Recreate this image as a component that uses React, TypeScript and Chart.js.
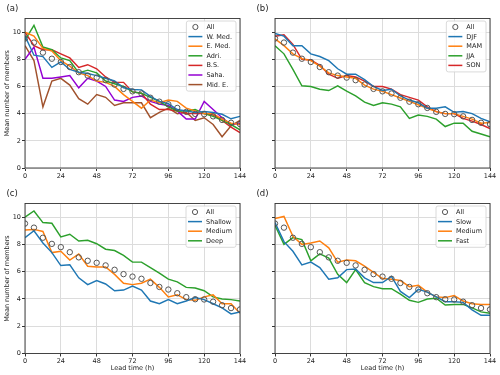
import React, { useEffect, useRef } from 'react';
import { Chart, registerables } from 'chart.js';

Chart.register(...registerables);
Chart.defaults.font.family = "'DejaVu Sans', 'Liberation Sans', sans-serif";

const leadTimes = [0, 6, 12, 18, 24, 30, 36, 42, 48, 54, 60, 66, 72, 78, 84, 90, 96, 102, 108, 114, 120, 126, 132, 138, 144];
const xTicks = [0, 24, 48, 72, 96, 120, 144];
const yTicks = [0, 2, 4, 6, 8, 10];

const allMean = [9.53, 9.23, 8.49, 8.04, 7.8, 7.43, 7.05, 6.8, 6.65, 6.46, 6.14, 5.82, 5.64, 5.48, 5.17, 4.88, 4.69, 4.42, 4.13, 3.98, 3.96, 3.8, 3.54, 3.33, 3.23];

// (a) regions
const wMed = [9.7, 8.3, 8.2, 7.4, 7.8, 7.25, 7.05, 6.95, 6.8, 6.6, 6.4, 5.9, 5.77, 5.75, 5.27, 4.9, 4.73, 4.3, 4.2, 4.08, 4.15, 4.08, 3.95, 3.62, 3.8];
const eMed = [10.0, 9.7, 8.8, 8.6, 7.9, 7.5, 7.0, 6.8, 6.4, 6.3, 6.0, 5.4, 4.9, 4.4, 5.0, 4.8, 5.0, 4.9, 4.4, 4.2, 4.0, 4.0, 3.6, 3.3, 3.2];
const adri = [9.4, 10.5, 8.9, 8.7, 8.1, 7.9, 7.0, 7.2, 7.0, 6.4, 6.2, 6.0, 5.6, 5.5, 5.2, 4.9, 4.5, 4.2, 4.2, 4.3, 4.0, 3.8, 3.5, 3.2, 2.8];
const bs = [10.0, 9.0, 8.7, 8.7, 8.4, 8.1, 7.4, 7.6, 7.3, 6.7, 6.3, 6.3, 5.6, 5.5, 4.7, 4.3, 4.3, 4.2, 4.0, 4.0, 4.0, 3.9, 3.5, 3.0, 2.6];
const saha = [8.0, 8.9, 6.6, 6.6, 6.7, 6.8, 5.9, 6.6, 6.4, 6.0, 5.0, 4.9, 5.2, 5.3, 4.9, 4.7, 4.6, 4.2, 3.6, 3.6, 4.9, 4.3, 3.7, 3.2, 3.3];
const midE = [9.0, 7.9, 4.5, 6.4, 6.6, 6.1, 5.1, 4.7, 5.4, 5.2, 4.6, 4.8, 4.8, 4.8, 3.7, 4.1, 4.4, 4.0, 4.1, 3.5, 3.7, 3.2, 2.3, 3.1, 3.5];

// (b) seasons
const djf = [9.9, 9.7, 9.0, 9.0, 8.4, 8.2, 7.9, 7.3, 6.9, 6.9, 6.5, 6.0, 5.7, 5.8, 5.3, 5.0, 4.8, 4.4, 4.4, 4.5, 4.1, 4.15, 4.0, 3.65, 3.4];
const mam = [9.5, 9.0, 8.4, 8.05, 7.9, 7.5, 7.0, 6.8, 6.7, 6.6, 6.1, 5.8, 5.65, 5.4, 5.15, 4.9, 4.65, 4.4, 4.15, 4.0, 4.0, 3.8, 3.6, 3.3, 3.35];
const jja = [9.0, 8.4, 7.25, 6.05, 6.0, 5.8, 5.7, 6.05, 5.65, 5.3, 4.85, 4.6, 4.8, 4.7, 4.5, 3.65, 3.9, 3.8, 3.6, 3.05, 3.3, 3.3, 2.7, 2.5, 2.3];
const son = [9.7, 9.8, 9.1, 8.0, 7.95, 7.55, 6.9, 6.6, 6.8, 6.7, 6.4, 6.0, 6.0, 5.8, 5.4, 5.2, 5.0, 4.5, 4.15, 4.0, 4.0, 3.65, 3.45, 3.2, 2.9];

// (c) depth
const shallow = [8.5, 9.0, 8.1, 7.4, 6.45, 6.5, 5.55, 5.05, 5.35, 5.1, 4.6, 4.65, 4.95, 4.65, 3.85, 3.65, 3.95, 3.65, 3.85, 4.1, 3.95, 3.65, 3.35, 2.9, 3.05];
const mediumDepth = [9.05, 9.1, 8.95, 7.4, 7.5, 6.85, 7.3, 6.4, 6.35, 6.35, 5.8, 5.15, 5.05, 5.15, 5.45, 4.85, 4.15, 4.3, 3.95, 3.9, 4.15, 4.3, 3.65, 3.65, 2.95];
const deep = [10.0, 10.45, 9.6, 9.55, 8.55, 8.75, 8.25, 8.3, 8.05, 7.65, 7.55, 7.2, 6.7, 6.7, 6.3, 5.9, 5.45, 5.25, 4.85, 4.8, 4.6, 4.15, 4.0, 3.95, 3.85];

// (d) speed
const slow = [9.6, 8.2, 7.5, 6.5, 6.7, 6.3, 5.45, 5.55, 6.15, 6.2, 5.55, 5.2, 5.2, 5.65, 4.55, 4.1, 4.7, 4.5, 4.15, 3.8, 3.8, 3.75, 3.2, 2.8, 2.8];
const mediumSpeed = [9.9, 10.05, 8.6, 8.0, 8.1, 8.25, 7.75, 6.7, 6.85, 6.8, 6.4, 5.95, 5.5, 5.45, 5.35, 4.9, 5.0, 4.5, 4.15, 4.1, 4.25, 3.85, 3.65, 3.6, 3.6];
const fast = [9.4, 8.0, 8.5, 8.35, 6.8, 7.3, 7.0, 5.8, 5.2, 6.15, 5.2, 4.9, 4.75, 4.75, 4.35, 3.9, 3.75, 4.0, 4.05, 3.55, 3.6, 3.6, 3.35, 3.05, 2.95];

const BLUE = '#1f77b4';
const ORANGE = '#ff7f0e';
const GREEN = '#2ca02c';
const RED = '#d62728';
const VIOLET = '#9400d3';
const BROWN = '#a0522d';

type Series = { label: string; color: string; values: number[] };

const panelA: Series[] = [
  { label: 'W. Med.', color: BLUE, values: wMed },
  { label: 'E. Med.', color: ORANGE, values: eMed },
  { label: 'Adri.', color: GREEN, values: adri },
  { label: 'B.S.', color: RED, values: bs },
  { label: 'Saha.', color: VIOLET, values: saha },
  { label: 'Mid. E.', color: BROWN, values: midE },
];
const panelB: Series[] = [
  { label: 'DJF', color: BLUE, values: djf },
  { label: 'MAM', color: ORANGE, values: mam },
  { label: 'JJA', color: GREEN, values: jja },
  { label: 'SON', color: RED, values: son },
];
const panelC: Series[] = [
  { label: 'Shallow', color: BLUE, values: shallow },
  { label: 'Medium', color: ORANGE, values: mediumDepth },
  { label: 'Deep', color: GREEN, values: deep },
];
const panelD: Series[] = [
  { label: 'Slow', color: BLUE, values: slow },
  { label: 'Medium', color: ORANGE, values: mediumSpeed },
  { label: 'Fast', color: GREEN, values: fast },
];

const FONT = "'DejaVu Sans', 'Liberation Sans', sans-serif";
const FS = 6.5;

const framePlugin = {
  id: 'frame',
  afterDatasetsDraw(chart: any) {
    const { ctx, chartArea } = chart;
    const { left, top, right, bottom } = chartArea;
    ctx.save();
    ctx.strokeStyle = '#333';
    ctx.lineWidth = 0.9;
    ctx.strokeRect(left, top, right - left, bottom - top);
    ctx.restore();
  },
};

const legendPlugin = {
  id: 'boxLegend',
  afterDraw(chart: any) {
    const { ctx, chartArea } = chart;
    const items = chart.data.datasets;
    ctx.save();
    ctx.font = `${FS}px ${FONT}`;
    const textW = Math.max(...items.map((d: any) => ctx.measureText(d.label).width));
    const rowH = 9.6;
    const w = 20 + textW + 4;
    const h = (items.length - 1) * rowH + 12.5;
    const x = chartArea.right - 4 - w;
    const y = chartArea.top + 2.5;
    ctx.beginPath();
    if ((ctx as any).roundRect) (ctx as any).roundRect(x, y, w, h, 2);
    else ctx.rect(x, y, w, h);
    ctx.fillStyle = 'rgba(255,255,255,0.85)';
    ctx.fill();
    ctx.strokeStyle = '#d0d0d0';
    ctx.lineWidth = 0.8;
    ctx.stroke();
    items.forEach((d: any, i: number) => {
      const cy = y + 6 + i * rowH;
      if (d.showLine === false) {
        ctx.beginPath();
        ctx.arc(x + 9, cy, 2.6, 0, Math.PI * 2);
        ctx.strokeStyle = '#555';
        ctx.lineWidth = 1;
        ctx.stroke();
      } else {
        ctx.beginPath();
        ctx.moveTo(x + 2, cy);
        ctx.lineTo(x + 16, cy);
        ctx.strokeStyle = d.borderColor;
        ctx.lineWidth = 1.5;
        ctx.stroke();
      }
      ctx.fillStyle = '#222';
      ctx.textBaseline = 'middle';
      ctx.textAlign = 'left';
      ctx.fillText(d.label, x + 20, cy + 0.3);
    });
    ctx.restore();
  },
};

type PanelProps = {
  left: number;
  top: number;
  width: number;
  height: number;
  series: Series[];
  showY: boolean;
  showXTitle: boolean;
  label: string;
};

function Panel({ left, top, width, height, series, showY, showXTitle, label }: PanelProps) {
  const ref = useRef<HTMLCanvasElement | null>(null);
  useEffect(() => {
    if (!ref.current) return;
    const datasets: any[] = [
      {
        label: 'All',
        data: leadTimes.map((t, i) => ({ x: t, y: allMean[i] })),
        showLine: false,
        pointRadius: 2.7,
        pointBorderWidth: 1,
        pointBorderColor: '#555',
        pointBackgroundColor: 'rgba(0,0,0,0)',
        borderColor: '#555',
        order: 0,
      },
      ...series.map((s) => ({
        label: s.label,
        data: leadTimes.map((t, i) => ({ x: t, y: s.values[i] })),
        borderColor: s.color,
        backgroundColor: s.color,
        borderWidth: 1.45,
        pointRadius: 0,
        tension: 0,
        fill: false,
        order: 1,
      })),
    ];
    const chart = new Chart(ref.current, {
      type: 'line',
      data: { datasets },
      options: {
        animation: false,
        responsive: false,
        maintainAspectRatio: false,
        layout: { padding: { top: 18.5, right: 10, left: 0, bottom: 0 } },
        plugins: { legend: { display: false }, tooltip: { enabled: false } },
        scales: {
          x: {
            type: 'linear',
            min: 0,
            max: 144,
            afterBuildTicks: (s: any) => {
              s.ticks = xTicks.map((v) => ({ value: v }));
            },
            afterFit: (s: any) => {
              s.height = showXTitle ? height - 18.5 - 150 : height - 18.5 - 149.5;
            },
            grid: { color: '#dcdcdc', lineWidth: 1, tickLength: 3, tickColor: '#333', drawTicks: true },
            border: { display: false },
            ticks: { padding: 1, color: '#222', font: { size: FS, family: FONT }, maxRotation: 0, autoSkip: false },
            title: {
              display: showXTitle,
              text: 'Lead time (h)',
              color: '#222',
              font: { size: FS, family: FONT },
              padding: { top: 0, bottom: 3 },
            },
          },
          y: {
            type: 'linear',
            min: 0,
            max: 11,
            afterBuildTicks: (s: any) => {
              s.ticks = yTicks.map((v) => ({ value: v }));
            },
            afterFit: (s: any) => {
              s.width = 25;
            },
            grid: { color: '#dcdcdc', lineWidth: 1, tickLength: 3, tickColor: '#333', drawTicks: true },
            border: { display: false },
            ticks: {
              padding: 1,
              color: '#222',
              font: { size: FS, family: FONT },
              callback: (v: any) => (showY ? String(v) : ''),
            },
            title: {
              display: showY,
              text: 'Mean number of members',
              color: '#222',
              font: { size: FS, family: FONT },
              padding: { top: 3, bottom: 0 },
            },
          },
        },
      },
      plugins: [framePlugin, legendPlugin],
    });
    return () => chart.destroy();
  }, []);
  return (
    <>
      <canvas
        ref={ref}
        width={width}
        height={height}
        style={{ position: 'absolute', left, top, width, height }}
      />
      <div
        style={{
          position: 'absolute',
          left: left + 6.5,
          top: top + 2.5,
          fontFamily: FONT,
          fontSize: 8.5,
          lineHeight: '10px',
          color: '#222',
        }}
      >
        {label}
      </div>
    </>
  );
}

export default function App() {
  return (
    <div style={{ position: 'fixed', left: 0, top: 0, width: 500, height: 375, background: '#fff' }}>
      <Panel left={0} top={0} width={250} height={185} series={panelA} showY={true} showXTitle={false} label="(a)" />
      <Panel left={250} top={0} width={250} height={185} series={panelB} showY={false} showXTitle={false} label="(b)" />
      <Panel left={0} top={185} width={250} height={190} series={panelC} showY={true} showXTitle={true} label="(c)" />
      <Panel left={250} top={185} width={250} height={190} series={panelD} showY={false} showXTitle={true} label="(d)" />
    </div>
  );
}
